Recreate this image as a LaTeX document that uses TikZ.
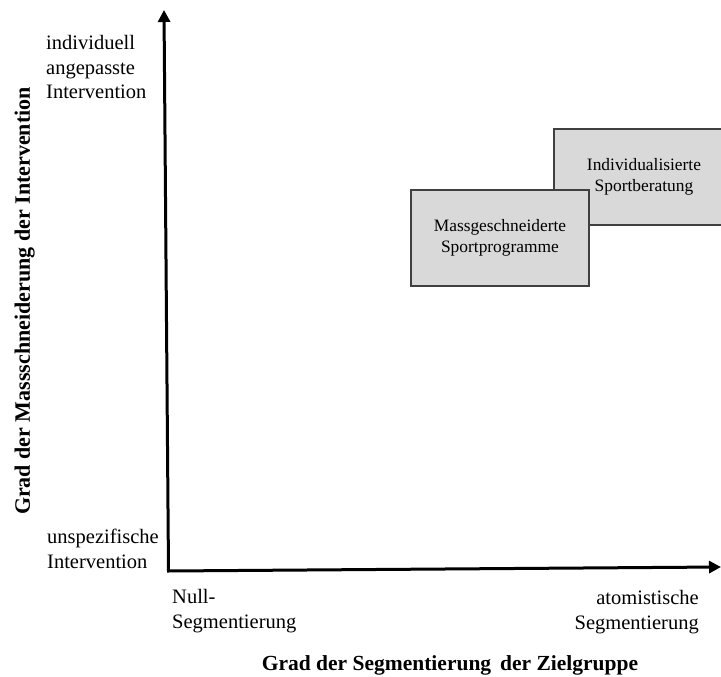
\documentclass[tikz,border=0pt]{standalone}
\usepackage{fontspec}
\setmainfont{Liberation Serif}
\usetikzlibrary{arrows.meta}
\definecolor{boxfill}{RGB}{217,217,217}
\definecolor{boxline}{RGB}{64,64,64}
\begin{document}
\begin{tikzpicture}[x=1pt,y=-1pt,
  axis/.style={line width=3pt, line join=miter, {Triangle[length=12pt,width=12pt]}-{Triangle[length=12pt,width=12pt]}},
  boxnode/.style={draw=boxline, fill=boxfill, line width=1.2pt, align=center,
    font=\fontsize{17.4}{21}\selectfont, inner sep=0pt},
  lbl/.style={font=\fontsize{20.5}{24.5}\selectfont, inner sep=0pt},
  ttl/.style={font=\fontsize{21.5}{25}\selectfont\bfseries, inner sep=0pt}]
\clip (0,0) rectangle (721,677);
% axes
\coordinate (top) at (164,10);
\coordinate (origin) at (168.5,571);
\coordinate (right) at (721,567);
\draw[axis] (top) -- (origin) -- (right);
% boxes
\node[boxnode, minimum width=180pt, minimum height=96pt] (ind) at (644,177)
  {Individualisierte\\Sportberatung};
\node[boxnode, minimum width=178pt, minimum height=96pt] (mass) at (500,238)
  {Massgeschneiderte\\Sportprogramme};
% axis end labels (base anchor = baseline of last line)
\node[lbl, anchor=base west, align=left] (yhi) at (46,99) {individuell\\angepasste\\Intervention};
\node[lbl, anchor=base west, align=left] (ylo) at (47,568) {unspezifische\\Intervention};
\node[lbl, anchor=base west, align=left] (xlo) at (172,628) {Null-\\Segmentierung};
\node[lbl, anchor=base east, align=right] (xhi) at (699,629) {atomistische\\Segmentierung};
% axis titles
\node[ttl, anchor=base] (xtitle) at (450,670) {Grad der Segmentierung\, der Zielgruppe};
\node[ttl, anchor=base, rotate=90, font=\fontsize{22}{26}\selectfont\bfseries] (ytitle) at (30,301) {Grad der Massschneiderung der Intervention};
\end{tikzpicture}
\end{document}
